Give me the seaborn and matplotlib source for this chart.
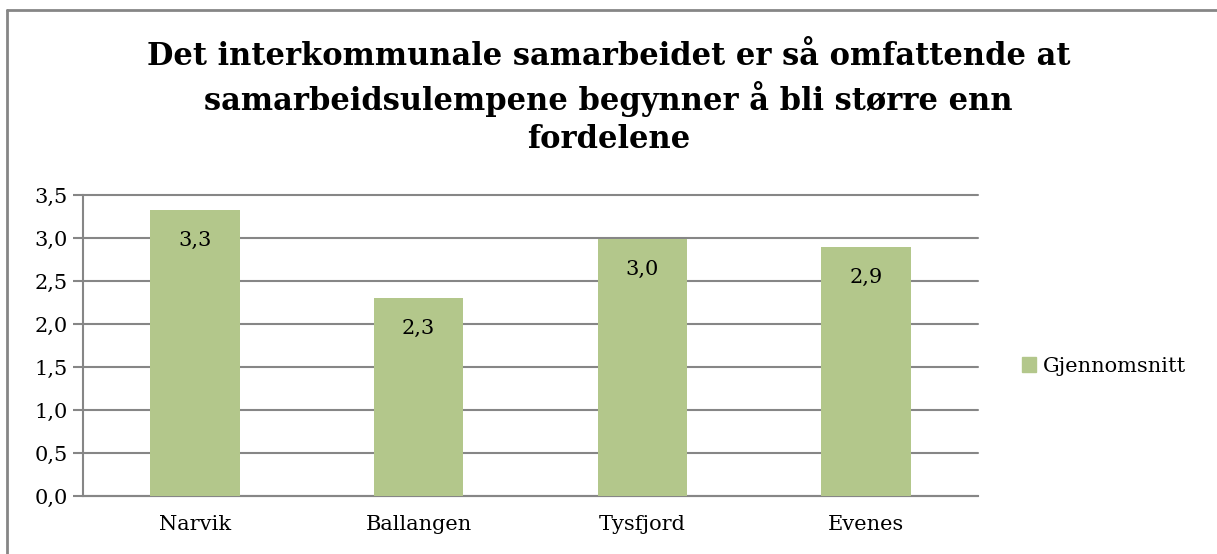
import matplotlib
matplotlib.use("Agg")
import matplotlib.pyplot as plt
from matplotlib.lines import Line2D
from matplotlib.patches import Patch
import seaborn as sns
import pandas as pd

kommuner = ["Narvik", "Ballangen", "Tysfjord", "Evenes"]
gjennomsnitt = [3.33, 2.30, 2.99, 2.89]
y_ticks = [0.0, 0.5, 1.0, 1.5, 2.0, 2.5, 3.0, 3.5]
tittel = ("Det interkommunale samarbeidet er så omfattende at\n"
          "samarbeidsulempene begynner å bli større enn\n"
          "fordelene")
serie = "Gjennomsnitt"

df = pd.DataFrame({"kommune": kommuner, "snitt": gjennomsnitt})

sns.set_style("white")
plt.rcParams["font.family"] = ["DejaVu Serif"]
plt.rcParams["text.color"] = "black"
plt.rcParams["xtick.color"] = "black"
plt.rcParams["ytick.color"] = "black"

gronn = "#b3c78b"
gra = "#868686"

fig = plt.figure(figsize=(12.17, 5.54), dpi=100)
ax = fig.add_axes([83 / 1217, 58 / 554, 895 / 1217, 301 / 554])

sns.barplot(df, x="kommune", y="snitt", color=gronn, width=0.4,
            saturation=1, ax=ax, zorder=3, linewidth=0)

ax.set_ylim(0, 3.5)
ax.set_xlim(-0.5, 3.5)
ax.set_yticks(y_ticks)
ax.set_yticklabels([f"{v:.1f}".replace(".", ",") for v in y_ticks])
ax.yaxis.grid(True, color=gra, linewidth=1.5, zorder=0)
for gl in ax.get_ygridlines():
    gl.set_clip_on(False)
ax.set_xlabel("")
ax.set_ylabel("")

# kategorigrenser som tick-streker
ax.set_xticks([i - 0.5 for i in range(len(kommuner) + 1)], minor=True)
ax.tick_params(axis="x", which="minor", length=8, width=1.5, color=gra, direction="out")
ax.tick_params(axis="x", which="major", length=0, pad=14, labelsize=15, labelcolor="black")
ax.tick_params(axis="y", length=7, width=1.5, color=gra, direction="out", pad=4,
               labelsize=15, left=True, labelcolor="black")

for s in ["top", "right"]:
    ax.spines[s].set_visible(False)
for s in ["left", "bottom"]:
    ax.spines[s].set_color(gra)
    ax.spines[s].set_linewidth(1.5)

# dataetiketter inne i toppen av stolpene
for i, v in enumerate(gjennomsnitt):
    ax.annotate(f"{v:.1f}".replace(".", ","), (i, v), xytext=(0, -15),
                textcoords="offset points", ha="center", va="top", fontsize=15,
                color="black")

fig.text(0.5, 1 - 98 / 554, tittel, ha="center", va="center", fontsize=22,
         fontweight="bold", linespacing=1.3, color="black")

leg = fig.legend(handles=[Patch(color=gronn, label=serie)],
                 loc="center left", bbox_to_anchor=(1003 / 1217, 1 - 366 / 554),
                 frameon=False, fontsize=15, handlelength=0.7, handleheight=0.7,
                 handletextpad=0.3)
for t in leg.get_texts():
    t.set_color("black")

# ramme rundt diagrammet (avkuttet til høyre og nederst)
fig.add_artist(Line2D([7 / 1217, 1], [1 - 10 / 554, 1 - 10 / 554], color=gra, linewidth=2))
fig.add_artist(Line2D([7 / 1217, 7 / 1217], [0, 1 - 10 / 554], color=gra, linewidth=2))

fig.savefig("out.png", dpi=100)
